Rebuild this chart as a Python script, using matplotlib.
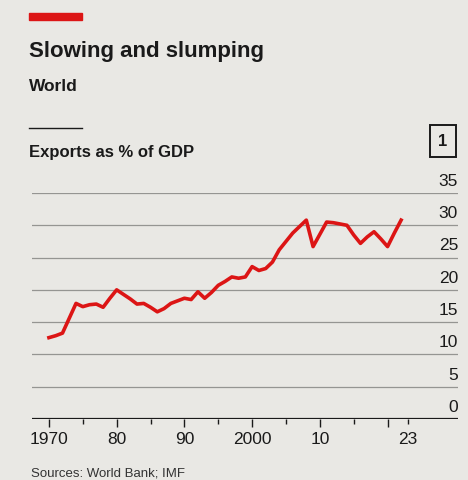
import matplotlib.pyplot as plt

years = list(range(1970, 2023))
exports = [12.6, 12.9, 13.3, 15.6, 17.9, 17.4, 17.7, 17.8, 17.3, 18.7,
           20.0, 19.3, 18.6, 17.8, 17.9, 17.3, 16.6, 17.1, 17.9, 18.3,
           18.7, 18.5, 19.7, 18.7, 19.6, 20.7, 21.3, 22.0, 21.8, 22.0,
           23.6, 23.0, 23.3, 24.3, 26.2, 27.5, 28.8, 29.8, 30.8, 26.7,
           28.6, 30.5, 30.4, 30.2, 30.0, 28.5, 27.2, 28.2, 29.0, 27.9,
           26.7, 28.8, 30.8]

yticks = [0, 5, 10, 15, 20, 25, 30, 35]
major_x = [1970, 1980, 1990, 2000, 2010, 2020]
major_lbl = ['1970', '80', '90', '2000', '10', '']
minor_x = [1975, 1985, 1995, 2005, 2015, 2023]
minor_lbl = ['', '', '', '', '', '23']

bg = '#e9e8e4'
ink = '#1a1a1a'
red = '#dc1515'

plt.rcParams['font.family'] = ['Liberation Sans', 'DejaVu Sans']

fig = plt.figure(figsize=(4.68, 4.8), dpi=100, facecolor=bg)
ax = fig.add_axes([32/468, 61/480, 426/468, 226/480])
ax.set_facecolor(bg)

for v in yticks[1:]:
    ax.axhline(v, color='#959592', lw=0.9, zorder=1)
ax.axhline(0, color=ink, lw=1.6, zorder=3)

ax.plot(years, exports, color=red, lw=2.6, zorder=4, solid_joinstyle='round')

ax.set_xlim(1967.5, 2030.4)
ax.set_ylim(0, 35)
for s in ax.spines.values():
    s.set_visible(False)

ax.set_yticks([])
for v in yticks:
    ax.annotate(str(v), (1.0, v), xycoords=ax.get_yaxis_transform(),
                xytext=(0, 3), textcoords='offset points',
                ha='right', va='bottom', fontsize=12.5, color=ink)

ax.set_xticks(major_x, major_lbl)
ax.set_xticks(minor_x, minor_lbl, minor=True)
ax.tick_params(axis='x', which='major', length=6, width=1, color=ink,
               labelsize=12.5, labelcolor=ink, pad=3.5)
ax.tick_params(axis='x', which='minor', length=3.5, width=1, color=ink,
               labelsize=12.5, labelcolor=ink, pad=6)

# header
fig.patches.append(plt.Rectangle((29/468, 1 - 20/480), 53/468, 7/480,
                                 transform=fig.transFigure, color=red))
fig.text(29/468, 1 - 57/480, 'Slowing and slumping', fontsize=16,
         fontweight='bold', color=ink, va='baseline')
fig.text(29/468, 1 - 91/480, 'World', fontsize=12.5, fontweight='bold',
         color=ink, va='baseline')
fig.add_artist(plt.Line2D([29/468, 82/468], [1 - 128/480, 1 - 128/480],
                          transform=fig.transFigure, color=ink, lw=1))
fig.text(29/468, 1 - 157/480, 'Exports as % of GDP', fontsize=12,
         fontweight='bold', color=ink, va='baseline')
fig.text(443/468, 1 - 141/480, '1', fontsize=12, fontweight='bold',
         color=ink, ha='center', va='center',
         bbox=dict(boxstyle='square,pad=0.5', fc=bg, ec=ink, lw=1.4))
fig.text(31/468, 1 - 477/480, 'Sources: World Bank; IMF', fontsize=9.5,
         color='#333333', va='baseline')

fig.savefig('out.png', dpi=100, facecolor=bg)
